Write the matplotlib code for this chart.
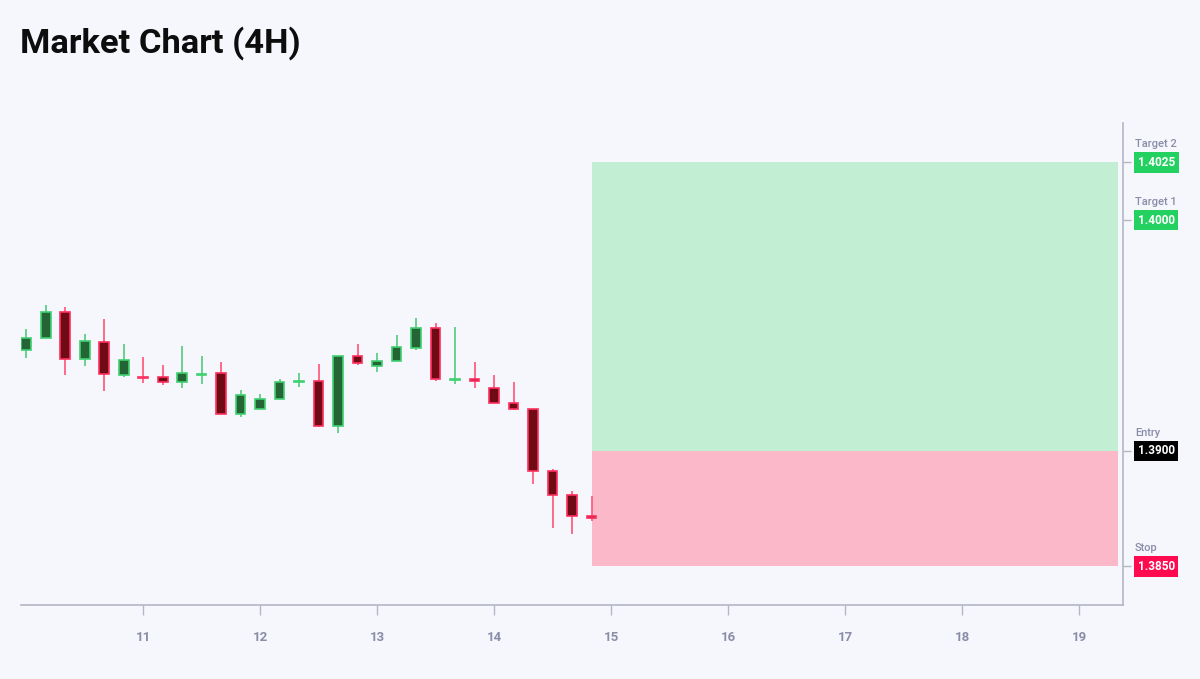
import matplotlib
matplotlib.use('Agg')
import matplotlib.pyplot as plt
import numpy as np

plt.rcParams['font.family'] = ['Roboto', 'DejaVu Sans']

# 4H candles, x in days (day 10.0 .. 14.83)
times = [10 + i / 6 for i in range(30)]
opens = [1.39437, 1.39490, 1.39602, 1.39398, 1.39473, 1.39330, 1.39320, 1.39320, 1.39300, 1.39330,
         1.39336, 1.39159, 1.39181, 1.39224, 1.39300, 1.39304, 1.39110, 1.39410, 1.39367, 1.39390,
         1.39447, 1.39531, 1.39308, 1.39312, 1.39273, 1.39209, 1.39183, 1.38915, 1.38808, 1.38720]
highs = [1.39527, 1.39632, 1.39622, 1.39505, 1.39570, 1.39463, 1.39407, 1.39372, 1.39455, 1.39410,
         1.39385, 1.39263, 1.39248, 1.39310, 1.39336, 1.39375, 1.39413, 1.39464, 1.39424, 1.39503,
         1.39576, 1.39553, 1.39535, 1.39384, 1.39329, 1.39299, 1.39183, 1.38921, 1.38828, 1.38805]
lows = [1.39401, 1.39490, 1.39328, 1.39368, 1.39261, 1.39322, 1.39293, 1.39284, 1.39274, 1.39290,
        1.39160, 1.39148, 1.39181, 1.39224, 1.39278, 1.39105, 1.39077, 1.39371, 1.39343, 1.39390,
        1.39439, 1.39304, 1.39291, 1.39274, 1.39206, 1.39177, 1.38858, 1.38665, 1.38639, 1.38698]
closes = [1.39490, 1.39602, 1.39398, 1.39477, 1.39332, 1.39394, 1.39317, 1.39300, 1.39336, 1.39333,
          1.39160, 1.39241, 1.39226, 1.39300, 1.39304, 1.39110, 1.39410, 1.39381, 1.39388, 1.39449,
          1.39531, 1.39310, 1.39310, 1.39302, 1.39206, 1.39183, 1.38915, 1.38808, 1.38720, 1.38710]

entry = 1.3900
stop = 1.3850
target1 = 1.4000
target2 = 1.4025
zone_start = 14.835
zone_end = 19.333

levels = [target2, target1, entry, stop]
level_names = ['Target 2', 'Target 1', 'Entry', 'Stop']
level_colors = ['#22d160', '#22d160', '#000000', '#ff0a4f']

bg = '#f5f7fc'
fig = plt.figure(figsize=(12, 6.79), dpi=100, facecolor=bg)
ax = fig.add_axes([21 / 1200, 1 - 605 / 679, (1123 - 21) / 1200, (605 - 123) / 679])
ax.set_facecolor(bg)

# trade zones
ax.fill_between([zone_start, zone_end], entry, target2, color='#c2efd3', lw=0, zorder=1)
ax.fill_between([zone_start, zone_end], stop, entry, color='#fab8c9', lw=0, zorder=1)

# candles
o = np.array(opens); c = np.array(closes); h = np.array(highs); l = np.array(lows)
t = np.array(times)
up = c >= o
w = 0.085
for mask, fill, edge, wick in [(up, '#256535', '#3fd070', '#5fcf85'),
                                (~up, '#6e0b14', '#ff2f5f', '#ff5f80')]:
    ax.vlines(t[mask], l[mask], h[mask], color=wick, lw=1.3, zorder=2)
    bottom = np.minimum(o[mask], c[mask])
    height = np.maximum(np.abs(c[mask] - o[mask]), 0.00003)
    ax.bar(t[mask], height, w, bottom=bottom, color=fill, edgecolor=edge, lw=1.2, zorder=3)

ax.set_xlim(9.957, 19.376)
ax.set_ylim(1.38333, 1.40420)

for s in ['top', 'left']:
    ax.spines[s].set_visible(False)
for s in ['bottom', 'right']:
    ax.spines[s].set_color('#b4b6c4')
    ax.spines[s].set_linewidth(1.2)

ax.set_xticks(range(11, 20))
ax.set_xticklabels([str(d) for d in range(11, 20)])
ax.tick_params(axis='x', length=7, width=1, color='#b4b6c4', labelcolor='#8a8ca8',
               labelsize=9.5, pad=12)
for lab in ax.get_xticklabels():
    lab.set_fontweight('bold')
ax.yaxis.tick_right()
ax.set_yticks(levels)
ax.set_yticklabels([])
ax.tick_params(axis='y', length=6, width=1, color='#b4b6c4')

for lv, name, col in zip(levels, level_names, level_colors):
    ax.annotate(name, xy=(1, lv), xycoords=('axes fraction', 'data'),
                xytext=(8.5, 13.2), textcoords='offset points', ha='left', va='center',
                fontsize=8, color='#8a8ca8', fontweight='medium', annotation_clip=False)
    ax.annotate('%.4f' % lv, xy=(1, lv), xycoords=('axes fraction', 'data'),
                xytext=(10.5, 0), textcoords='offset points', ha='left', va='center',
                fontsize=8.5, color='white', fontweight='bold', annotation_clip=False,
                bbox=dict(boxstyle='square,pad=0.32', fc=col, ec='none'))

fig.text(20 / 1200, 1 - 53 / 679, 'Market Chart (4H)', fontsize=24.8, fontweight='bold',
         ha='left', va='baseline', color='#0d0d0d')

fig.savefig('out.png', dpi=100, facecolor=bg)
